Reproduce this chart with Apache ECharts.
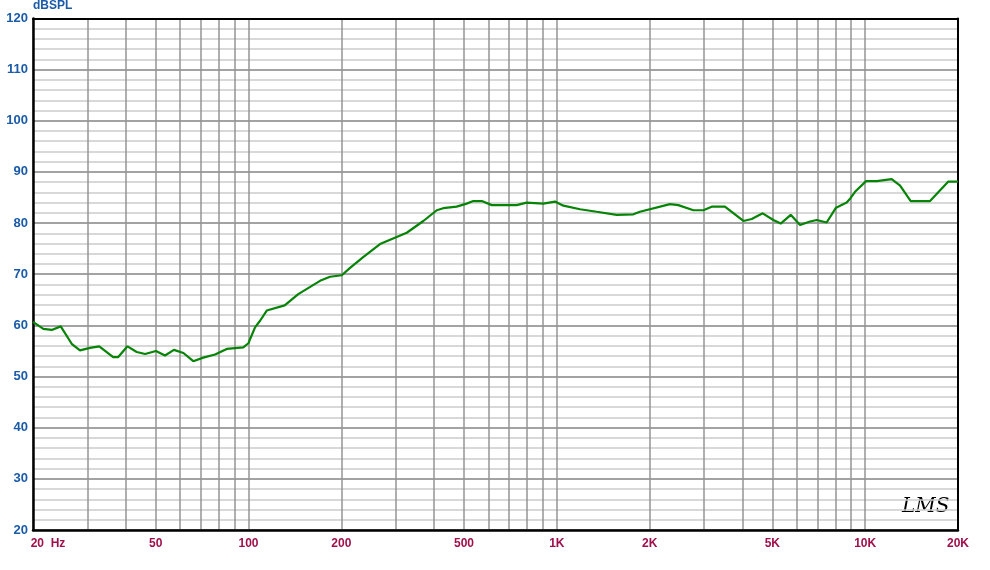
<!DOCTYPE html>
<html><head><meta charset="utf-8">
<script src="https://cdn.jsdelivr.net/npm/echarts@6/dist/echarts.min.js"></script>
<style>html,body{margin:0;padding:0;background:#fff}#c{width:990px;height:570px}</style>
</head><body><div id="c"></div>
<script>
const freqs = [20,21.6,23,24.6,26.7,28.4,30.6,32.8,36.4,37.8,40.5,43.4,46.2,50.1,53.6,57.3,61.5,66.2,71.3,77.9,85,96.2,99.9,105,109,114.6,131,145,170.6,183.8,200.7,213,236,267,326,369,408,428,473,510,536,571,615,741,798,904,986,1050,1189,1346,1564,1770,1860,2328,2477,2773,2986,3178,3508,4027,4285,4652,5036,5322,5735,6150,6622,6966,7500,8044,8710,8975,9270,10068,10902,12190,12980,14052,16232,18610,20000];
const spl = [60.7,59.3,59.1,59.8,56.4,55.1,55.6,55.9,53.8,53.8,55.9,54.8,54.4,55.0,54.1,55.2,54.6,53.0,53.7,54.3,55.4,55.7,56.5,59.6,60.9,62.9,63.9,66.1,68.7,69.5,69.8,71.2,73.4,75.9,78.1,80.4,82.5,82.9,83.2,83.8,84.3,84.3,83.5,83.5,84.0,83.8,84.2,83.4,82.7,82.2,81.6,81.7,82.2,83.7,83.5,82.5,82.5,83.2,83.2,80.4,80.8,81.9,80.6,79.9,81.6,79.6,80.3,80.6,80.1,83.0,84.0,84.9,86.1,88.2,88.2,88.6,87.3,84.3,84.3,88.1,88.1];
const gridFreqs = [20,30,40,50,60,70,80,90,100,200,300,400,500,600,700,800,900,1000,2000,3000,4000,5000,6000,7000,8000,9000,10000,20000];
const labelFreqs = [20,50,100,200,500,1000,2000,5000,10000,20000];
const labelText = {20:'20  Hz',50:'50',100:'100',200:'200',500:'500',1000:'1K',2000:'2K',5000:'5K',10000:'10K',20000:'20K'};
const yTitle = 'dBSPL';

const labelFont = {color:'#a0104c',fontWeight:'bold',fontSize:12,fontFamily:'Liberation Sans, Arial'};
const chart = echarts.init(document.getElementById('c'), null, {renderer:'canvas'});
chart.setOption({
  animation:false,
  backgroundColor:'#fff',
  grid:{left:33,right:32,top:17,bottom:40,show:false},
  xAxis:[{type:'log',logBase:10,min:20,max:20000,
    axisLine:{show:true,onZero:false,lineStyle:{color:'#000',width:2.5}},
    axisTick:{show:false,customValues:gridFreqs},
    splitLine:{show:true,lineStyle:{color:'#949494',width:1.5}},
    minorSplitLine:{show:false},
    axisLabel:Object.assign({customValues:labelFreqs,margin:8,
      formatter:v=>{const r=Math.round(v);return r===20?'{first|'+labelText[r]+'}':(labelText[r]||'');},
      rich:{first:Object.assign({padding:[0,0,0,30]},labelFont)}},labelFont)
  },{type:'log',logBase:10,min:20,max:20000,position:'top',
    axisLine:{show:true,onZero:false,lineStyle:{color:'#000',width:2}},
    axisTick:{show:false},axisLabel:{show:false},splitLine:{show:false}
  }],
  yAxis:[{type:'value',min:20,max:120,interval:10,
    name:yTitle,nameLocation:'end',nameGap:3,nameTextStyle:{color:'#1a5aa8',fontWeight:'bold',fontSize:12,align:'left',fontFamily:'Liberation Sans, Arial'},
    axisLine:{show:true,onZero:false,lineStyle:{color:'#000',width:2.5}},axisTick:{show:false},
    splitLine:{show:true,lineStyle:{color:'#858585',width:1.5}},
    minorTick:{show:false,splitNumber:5},
    minorSplitLine:{show:true,lineStyle:{color:'#cccccc',width:1.5}},
    axisLabel:{color:'#1a5aa8',fontWeight:'bold',fontSize:13,fontFamily:'Liberation Sans, Arial',margin:5}
  },{type:'value',min:20,max:120,position:'right',
    axisLine:{show:true,onZero:false,lineStyle:{color:'#000',width:2}},
    axisTick:{show:false},axisLabel:{show:false},splitLine:{show:false}
  }],
  series:[{type:'line',data:freqs.map((f,i)=>[f,spl[i]]),showSymbol:false,symbol:'none',
    lineStyle:{color:'#058405',width:2.2},z:5}],
  graphic:[{type:'text',left:902,top:497,style:{text:'LMS',font:'italic 20px "DejaVu Serif"',fill:'#000'}}]
});
</script></body></html>
